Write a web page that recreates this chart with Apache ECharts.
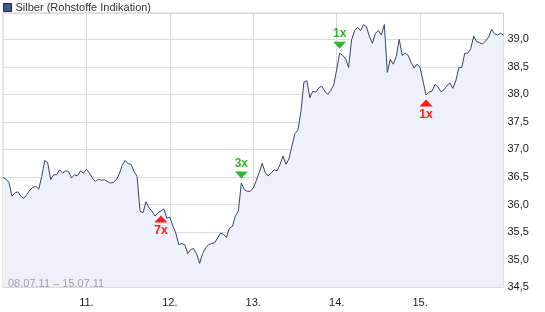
<!DOCTYPE html>
<html><head><meta charset="utf-8">
<script src="https://cdn.jsdelivr.net/npm/echarts@6/dist/echarts.min.js"></script>
<style>html,body{margin:0;padding:0;background:#fff}#c{width:545px;height:312px}</style>
</head><body><div id="c"></div>
<script>
var seriesName = 'Silber (Rohstoffe Indikation)';
var rangeText = '08.07.11 \u2013 15.07.11';
var dayLabels = ['08.', '11.', '12.', '13.', '14.', '15.'];
var pointsPerDay = 28;
var prices = [
36.49, 36.46, 36.40, 36.15, 36.21, 36.23, 36.15, 36.11, 36.18, 36.26,
36.31, 36.33, 36.28, 36.51, 36.80, 36.76, 36.45, 36.54, 36.54, 36.63,
36.57, 36.61, 36.60, 36.48, 36.54, 36.52, 36.61, 36.57, 36.64, 36.57,
36.48, 36.42, 36.46, 36.44, 36.45, 36.42, 36.39, 36.40, 36.45, 36.55,
36.71, 36.80, 36.74, 36.73, 36.60, 36.51, 35.88, 35.85, 36.05, 35.94,
35.88, 35.79, 35.85, 35.88, 35.92, 35.75, 35.77, 35.61, 35.48, 35.27,
35.29, 35.27, 35.11, 35.18, 35.20, 35.10, 34.93, 35.11, 35.21, 35.27,
35.29, 35.30, 35.39, 35.48, 35.46, 35.40, 35.57, 35.60, 35.79, 35.88,
36.39, 36.27, 36.24, 36.24, 36.30, 36.43, 36.58, 36.75, 36.58, 36.52,
36.57, 36.63, 36.61, 36.73, 36.88, 36.73, 36.83, 37.07, 37.29, 37.35,
37.69, 38.22, 38.25, 37.94, 38.06, 38.04, 38.12, 38.15, 38.06, 38.00,
38.07, 38.17, 38.45, 38.75, 38.71, 38.65, 38.49, 38.99, 39.16, 39.22,
39.16, 39.27, 39.23, 39.05, 38.93, 39.11, 39.16, 39.08, 39.27, 38.40,
38.64, 38.55, 38.69, 39.00, 38.71, 38.75, 38.71, 38.58, 38.48, 38.55,
38.49, 38.24, 37.99, 38.04, 38.06, 38.18, 38.14, 38.05, 38.08, 38.16,
38.21, 38.11, 38.25, 38.49, 38.49, 38.75, 38.75, 38.83, 39.06, 38.96,
38.94, 38.92, 38.97, 39.04, 39.18, 39.10, 39.08, 39.11, 39.08
];
// trading signals: point index, label, direction
var signalIndex = [53, 80, 113, 142];
var signalLabel = ['7x', '3x', '1x', '1x'];
var signalDir = ['up', 'down', 'down', 'up'];

var categories = prices.map(function (v, i) {
  var d = Math.floor(i / pointsPerDay);
  return dayLabels[Math.min(d, dayLabels.length - 1)] + (i % pointsPerDay === 0 ? '' : '#' + (i % pointsPerDay));
});
function isDayStart(index) { return index > 0 && index % pointsPerDay === 0 && index < prices.length - 1; }

var RED = '#ff1a1a', GREEN = '#2cb82c';
var upSig = [], downSig = [];
signalIndex.forEach(function (idx, k) {
  var item = { value: [idx, prices[idx]], label: { formatter: signalLabel[k] } };
  (signalDir[k] === 'up' ? upSig : downSig).push(item);
});

var font = 'Liberation Sans, Arial, sans-serif';
var chart = echarts.init(document.getElementById('c'), null, { renderer: 'canvas' });
chart.setOption({
  animation: false,
  backgroundColor: '#fff',
  legend: {
    left: 3, top: 2, padding: 0, itemWidth: 8, itemHeight: 8, itemGap: 4,
    data: [{ name: seriesName, icon: 'rect', itemStyle: { color: '#42598a', borderColor: '#1c2846', borderWidth: 1 } }],
    textStyle: { fontFamily: font, fontSize: 11, color: '#333', padding: [0, 0, 0, -1] },
    selectedMode: false
  },
  grid: { left: 3, right: 41.5, top: 13, bottom: 25, show: true, borderColor: '#cfcfcf', borderWidth: 1, backgroundColor: '#fff' },
  xAxis: {
    type: 'category', data: categories, boundaryGap: false,
    axisLine: { show: false }, axisTick: { show: false },
    axisLabel: {
      interval: function (i) { return isDayStart(i); },
      formatter: function (v, i) { return dayLabels[Math.floor(i / pointsPerDay)]; },
      fontFamily: font, fontSize: 11, color: '#222', margin: 10
    },
    splitLine: { show: true, interval: function (i) { return isDayStart(i); }, lineStyle: { color: '#dadada', width: 1 } }
  },
  yAxis: {
    type: 'value', position: 'right', min: 34.5, max: 39.48, interval: 0.5,
    axisLine: { show: false }, axisTick: { show: false },
    axisLabel: {
      showMaxLabel: false, fontFamily: font, fontSize: 11, color: '#222', margin: 4,
      formatter: function (v) { return v.toFixed(1).replace('.', ','); }
    },
    splitLine: { lineStyle: { color: '#dadada', width: 1 } }
  },
  graphic: [{
    type: 'text', left: 8, top: 278, z: 10,
    style: { text: rangeText, fill: '#a0a0a0', font: '11px ' + font }
  }],
  series: [{
    name: seriesName, type: 'line', data: prices, symbol: 'none',
    lineStyle: { color: '#34466e', width: 1 },
    itemStyle: { color: '#42598a' },
    areaStyle: { color: '#eef1f9', opacity: 1, origin: 'start' },
    z: 2
  }, {
    type: 'scatter', data: upSig, symbol: 'triangle', symbolSize: [13, 7], symbolOffset: [0, 8],
    itemStyle: { color: RED, opacity: 1 }, z: 5, silent: true,
    label: { show: true, position: 'bottom', distance: 2, color: RED, fontFamily: font, fontSize: 12, fontWeight: 'bold' }
  }, {
    type: 'scatter', data: downSig, symbol: 'path://M0,0L2,0L1,1Z', symbolSize: [13, 7], symbolOffset: [0, -8],
    itemStyle: { color: GREEN, opacity: 1 }, z: 5, silent: true,
    label: { show: true, position: 'top', distance: 2, color: GREEN, fontFamily: font, fontSize: 12, fontWeight: 'bold' }
  }]
});
</script></body></html>
